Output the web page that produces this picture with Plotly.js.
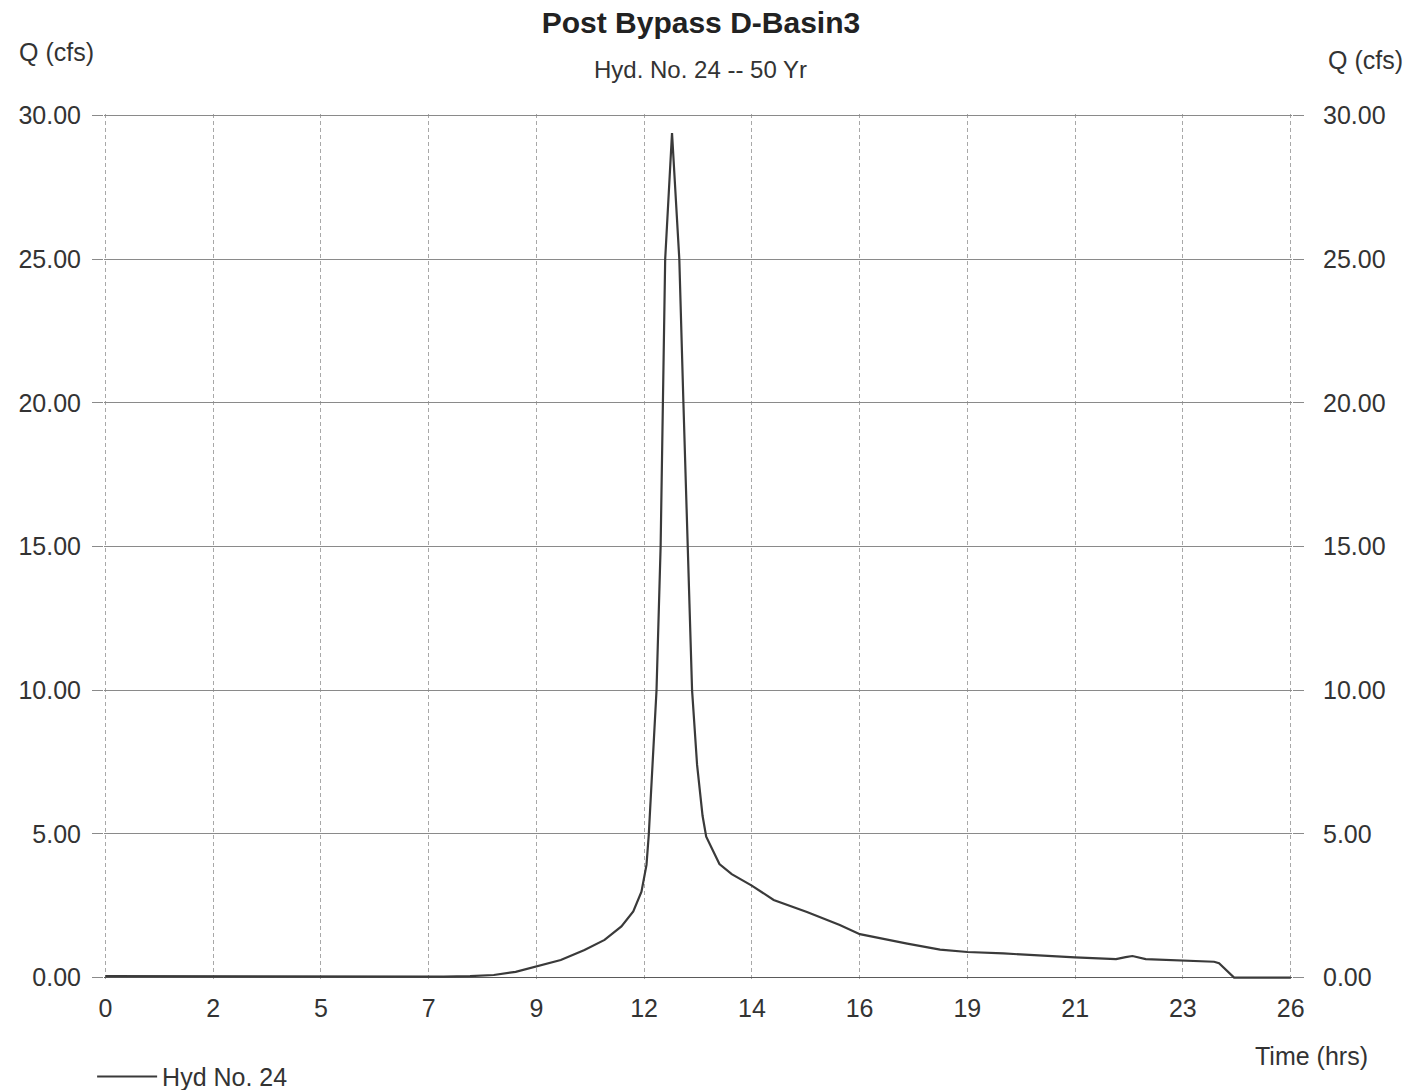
<!DOCTYPE html>
<html>
<head>
<meta charset="utf-8">
<script src="https://cdn.plot.ly/plotly-3.0.1.min.js"></script>
<style>
  html, body { margin: 0; padding: 0; background: #ffffff; }
  #chart { width: 1423px; height: 1090px; }
</style>
</head>
<body>
<div id="chart"></div>
<script>
// ---- Data ----
const chartTitle = 'Post Bypass D-Basin3';
const chartSubtitle = 'Hyd. No. 24 -- 50 Yr';
const seriesName = 'Hyd No. 24';
const yAxisLabel = 'Q (cfs)';
const xAxisLabel = 'Time (hrs)';

// Time (hrs)
const timeHrs = [
  0, 2, 4, 6, 7.42, 8.0, 8.52, 9.0, 9.45, 9.99, 10.51, 10.95, 11.32, 11.58,
  11.76, 11.87, 11.92, 12.0, 12.09, 12.18, 12.23, 12.28, 12.43, 12.59, 12.68,
  12.77, 12.87, 12.98, 13.1, 13.18, 13.47, 13.74, 14.18, 14.66, 15.39, 16.11, 16.55, 17.59,
  18.31, 18.91, 19.7, 21.27, 22.17, 22.38, 22.53, 22.82, 23.64, 24.32, 24.43,
  24.59, 24.76, 26
];
// Flow Q (cfs)
const flowCfs = [
  0.05, 0.04, 0.03, 0.02, 0.03, 0.05, 0.09, 0.2, 0.38, 0.61, 0.96, 1.31, 1.78, 2.30,
  2.99, 3.92, 4.97, 7.4, 10.0, 15.0, 20.0, 25.0, 29.39, 25.0, 20.0,
  15.0, 10.0, 7.4, 5.63, 4.9, 3.95, 3.6, 3.2, 2.7, 2.28, 1.83, 1.51, 1.18,
  0.97, 0.89, 0.84, 0.70, 0.64, 0.71, 0.75, 0.64, 0.59, 0.55, 0.50,
  0.27, 0.0, 0.0
];

// X tick positions and their printed labels
const xTickVals = [0, 2.364, 4.727, 7.091, 9.455, 11.818, 14.182, 16.545, 18.909, 21.273, 23.636, 26];
const xTickText = ['0', '2', '5', '7', '9', '12', '14', '16', '19', '21', '23', '26'];
const yTickVals = [0, 5, 10, 15, 20, 25, 30];

// ---- Chart ----
const FONT = 'Liberation Sans, Arial, Helvetica, sans-serif';
const TXT = '#333333';

const trace = {
  x: timeHrs,
  y: flowCfs,
  type: 'scatter',
  mode: 'lines',
  name: seriesName,
  line: { color: '#3a3a3a', width: 2.2 },
  showlegend: true
};

// empty helper trace so that the right-hand Q axis is drawn
const rightAxisHelper = {
  x: [], y: [], type: 'scatter', mode: 'lines',
  yaxis: 'y2', showlegend: false, hoverinfo: 'skip'
};

const yAxisCommon = {
  range: [-0.05, 30.05],
  tickvals: yTickVals,
  tickformat: '.2f',
  ticks: 'outside',
  ticklen: 11,
  tickcolor: '#8a8a8a',
  tickwidth: 1,
  tickfont: { family: FONT, size: 25, color: TXT },
  showline: false,
  fixedrange: true
};

const layout = {
  width: 1423,
  height: 1090,
  paper_bgcolor: '#ffffff',
  plot_bgcolor: '#ffffff',
  margin: { l: 104, r: 131, t: 114, b: 111, pad: 0, autoexpand: false },
  font: { family: FONT, color: TXT, size: 25 },
  title: {
    text: chartTitle,
    font: { family: FONT, size: 30, color: '#222222', weight: 'bold' },
    x: 0.4926, xref: 'container', xanchor: 'center',
    y: 0.9798, yref: 'container', yanchor: 'middle'
  },
  xaxis: {
    range: [-0.03, 26.03],
    tickvals: xTickVals,
    ticktext: xTickText,
    ticks: '',
    ticklabelstandoff: 12,
    tickfont: { family: FONT, size: 25, color: TXT },
    showgrid: true,
    gridcolor: '#a8a8a8',
    gridwidth: 1,
    griddash: '4px,3px',
    zeroline: false,
    showline: false,
    fixedrange: true
  },
  yaxis: Object.assign({}, yAxisCommon, {
    side: 'left',
    showgrid: true,
    gridcolor: '#8a8a8a',
    gridwidth: 1,
    zeroline: true,
    zerolinecolor: '#5a5a5a',
    zerolinewidth: 1.5,
    ticklabelstandoff: 6
  }),
  yaxis2: Object.assign({}, yAxisCommon, {
    side: 'right',
    overlaying: 'y',
    anchor: 'x',
    showgrid: false,
    zeroline: false,
    ticklabelstandoff: 14
  }),
  showlegend: true,
  legend: {
    x: -0.01, xanchor: 'left', xref: 'paper',
    y: -0.113, yanchor: 'middle', yref: 'paper',
    orientation: 'h',
    bgcolor: 'rgba(0,0,0,0)',
    font: { family: FONT, size: 25, color: TXT },
    itemwidth: 60
  },
  annotations: [
    {
      text: chartSubtitle, xref: 'paper', yref: 'paper',
      x: 0.502, y: 1.0509, xanchor: 'center', yanchor: 'middle',
      showarrow: false, font: { family: FONT, size: 24, color: TXT }
    },
    {
      text: yAxisLabel, xref: 'paper', yref: 'paper',
      x: -0.0402, y: 1.0711, xanchor: 'center', yanchor: 'middle',
      showarrow: false, font: { family: FONT, size: 25, color: TXT }
    },
    {
      text: yAxisLabel, xref: 'paper', yref: 'paper',
      x: 1.0619, y: 1.0624, xanchor: 'center', yanchor: 'middle',
      showarrow: false, font: { family: FONT, size: 25, color: TXT }
    },
    {
      text: xAxisLabel, xref: 'paper', yref: 'paper',
      x: 1.0162, y: -0.089, xanchor: 'center', yanchor: 'middle',
      showarrow: false, font: { family: FONT, size: 25, color: TXT }
    }
  ]
};

Plotly.newPlot('chart', [trace, rightAxisHelper], layout, { displayModeBar: false, staticPlot: true });
</script>
</body>
</html>
